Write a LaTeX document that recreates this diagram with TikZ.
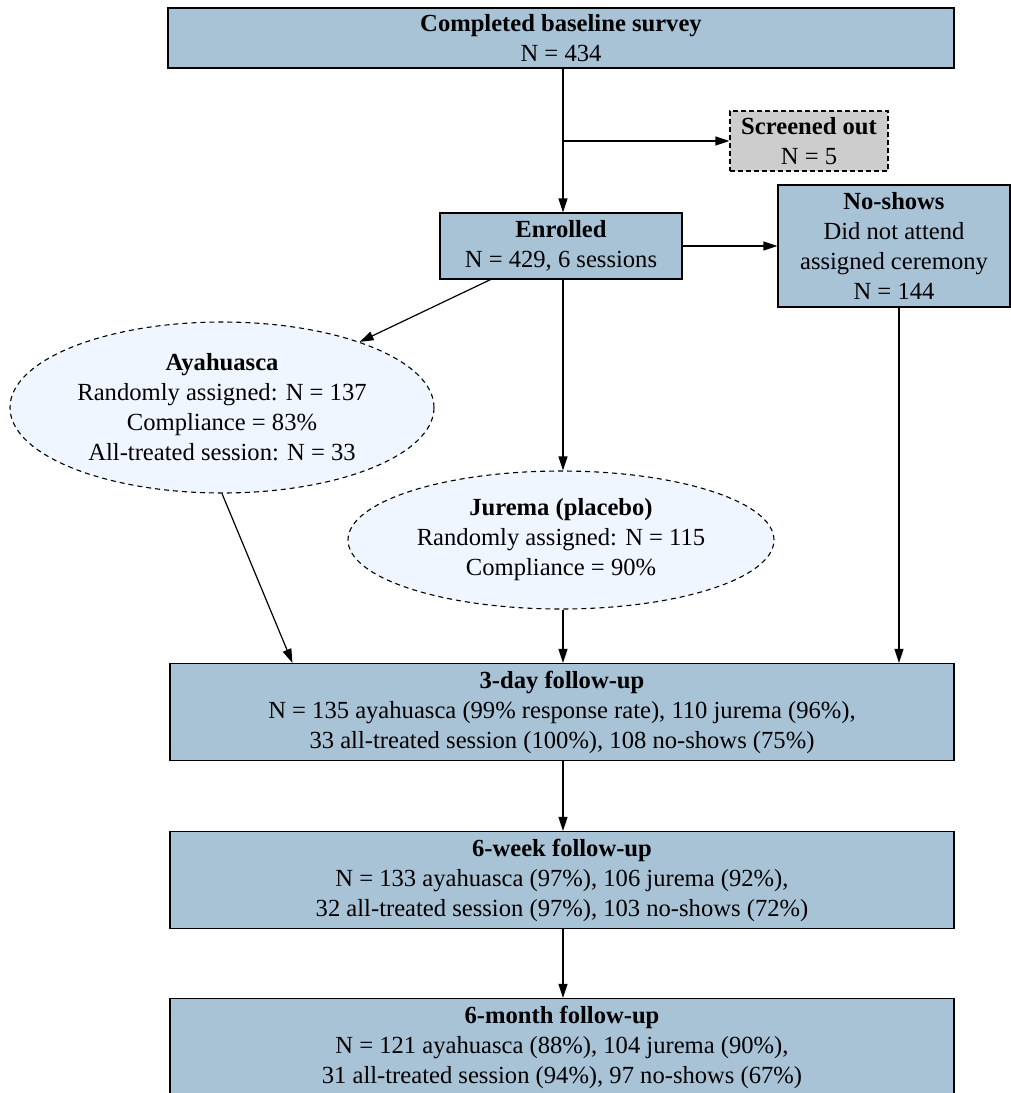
\documentclass[tikz,border=0pt]{standalone}
\usepackage{fontspec}
\setmainfont{Liberation Serif}
\usepackage{xcolor}
\usetikzlibrary{arrows.meta,shapes.geometric}
\definecolor{boxblue}{HTML}{A8C2D6}
\definecolor{ellblue}{HTML}{F0F6FF}
\definecolor{screengray}{HTML}{CDCDCD}

\begin{document}
\begin{tikzpicture}[x=1pt, y=1pt,
  every node/.style={align=center, inner sep=0pt, font=\fontsize{24.6}{30}\selectfont},
  box/.style={rectangle, draw, line width=1.2pt, fill=boxblue},
  screen/.style={rectangle, draw, line width=1.1pt, dash pattern=on 5pt off 3pt, fill=screengray},
  arm/.style={ellipse, draw, line width=1.1pt, dash pattern=on 5pt off 4pt, fill=ellblue},
  link/.style={-{Triangle[length=14pt, width=9pt]}, line width=1.2pt}]
  \useasboundingbox (0,0) rectangle (1011,-1093);
  \node (base) [box, minimum width=786, minimum height=60] at (561,-38) {\textbf{Completed baseline survey}\\N = 434};
  \node (screened) [screen, minimum width=158, minimum height=60] at (809,-141) {\textbf{Screened out}\\N = 5};
  \node (enrolled) [box, minimum width=242, minimum height=66] at (561,-246) {\textbf{Enrolled}\\N = 429, 6 sessions};
  \node (noshows) [box, minimum width=232, minimum height=122] at (894,-246) {\textbf{No-shows}\\Did not attend\\assigned ceremony\\N = 144};
  \node (aya) [arm, minimum width=424, minimum height=171] at (222,-407.5) {\textbf{Ayahuasca}\\Randomly assigned: N = 137\\Compliance = 83\%\\All-treated session: N = 33};
  \node (jurema) [arm, minimum width=426, minimum height=138] at (561,-540) {\textbf{Jurema (placebo)}\\Randomly assigned: N = 115\\Compliance = 90\%};
  \node (day3) [box, minimum width=784, minimum height=97] at (562,-712) {\textbf{3-day follow-up}\\N = 135 ayahuasca (99\% response rate), 110 jurema (96\%),\\33 all-treated session (100\%), 108 no-shows (75\%)};
  \node (week6) [box, minimum width=784, minimum height=97] at (562,-880) {\textbf{6-week follow-up}\\N = 133 ayahuasca (97\%), 106 jurema (92\%),\\32 all-treated session (97\%), 103 no-shows (72\%)};
  \node (month6) [box, minimum width=784, minimum height=97] at (562,-1047) {\textbf{6-month follow-up}\\N = 121 ayahuasca (88\%), 104 jurema (90\%),\\31 all-treated session (94\%), 97 no-shows (67\%)};
  \coordinate (split) at (563,-141);
  \draw[link] ([xshift=2pt]base.south) -- ([xshift=2pt]enrolled.north);
  \draw[link] (split) -- (screened.west);
  \draw[link] (enrolled.east) -- (noshows.west);
  \draw[link] (enrolled) -- (aya);
  \draw[link] ([xshift=2pt]enrolled.south) -- ([xshift=2pt]jurema.north);
  \draw[link] (aya.south) -- ([xshift=123pt]day3.north west);
  \draw[link] ([xshift=2pt]jurema.south) -- ([xshift=1pt]day3.north);
  \draw[link] ([xshift=5pt]noshows.south) -- ([xshift=5pt]noshows.south |- day3.north);
  \draw[link] ([xshift=1pt]day3.south) -- ([xshift=1pt]week6.north);
  \draw[link] ([xshift=1pt]week6.south) -- ([xshift=1pt]month6.north);
\end{tikzpicture}
\end{document}
